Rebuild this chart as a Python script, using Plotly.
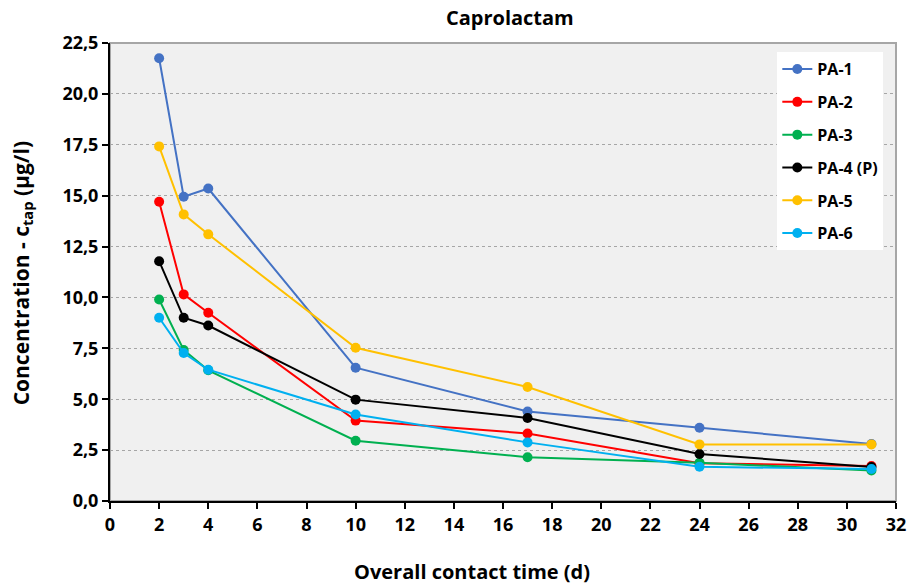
import plotly.graph_objects as go

days = [2, 3, 4, 10, 17, 24, 31]
names = ["PA-1", "PA-2", "PA-3", "PA-4 (P)", "PA-5", "PA-6"]
pa1 = [21.75, 14.95, 15.35, 6.55, 4.40, 3.60, 2.80]
pa2 = [14.70, 10.15, 9.25, 3.95, 3.32, 1.85, 1.72]
pa3 = [9.90, 7.42, 6.42, 2.96, 2.15, 1.88, 1.50]
pa4 = [11.78, 9.00, 8.62, 4.98, 4.08, 2.31, 1.67]
pa5 = [17.42, 14.08, 13.10, 7.53, 5.60, 2.78, 2.78]
pa6 = [9.00, 7.27, 6.45, 4.25, 2.88, 1.68, 1.57]
colors = ["#4472C4", "#FF0000", "#00B050", "#000000", "#FFC000", "#00B0F0"]
series = [pa1, pa2, pa3, pa4, pa5, pa6]

x_ticks = list(range(0, 33, 2))
y_ticks = [0, 2.5, 5, 7.5, 10, 12.5, 15, 17.5, 20, 22.5]

font_family = "'Open Sans', sans-serif"

fig = go.Figure()
for i, (n, s, c) in enumerate(zip(names, series, colors)):
    fig.add_trace(go.Scatter(
        x=days, y=s, name=n, mode="lines+markers",
        line=dict(color=c, width=2),
        marker=dict(color=c, size=10),
        legendgroup=f"g{i}",
    ))

bold = dict(family=font_family, color="black", weight="bold")

fig.update_layout(
    width=917, height=587,
    margin=dict(l=110, r=21, t=43, b=86),
    paper_bgcolor="white",
    plot_bgcolor="#F0F0F0",
    separators=",.",
    font=dict(family=font_family, color="black", size=16, weight="bold"),
    title=dict(text="Caprolactam", x=0.556, xanchor="center", y=0.97, yanchor="middle",
               font=dict(size=20, **bold)),
    showlegend=True,
    legend=dict(
        x=0.849, y=0.98, xanchor="left", yanchor="top",
        bgcolor="white", borderwidth=0,
        font=dict(size=16, **bold),
        tracegroupgap=9,
        itemwidth=30,
    ),
    shapes=[dict(type="rect", xref="paper", yref="paper", x0=0, x1=1, y0=0, y1=1,
                 line=dict(color="#A6A6A6", width=2), layer="below")],
    annotations=[
        dict(text="Overall contact time (d)", xref="paper", yref="paper",
             x=0.4606, y=-0.155, xanchor="center", yanchor="middle", showarrow=False,
             font=dict(size=20, **bold)),
        dict(text="Concentration - c<sub>tap</sub> (µg/l)", xref="paper", yref="paper",
             x=-0.112, y=0.497, xanchor="center", yanchor="middle", showarrow=False,
             textangle=-90, font=dict(size=21, **bold)),
    ],
)

fig.update_xaxes(
    range=[0, 32], tickvals=x_ticks,
    ticks="outside", ticklen=6, tickwidth=2, tickcolor="black",
    showline=True, linecolor="black", linewidth=2,
    showgrid=False, zeroline=False,
    tickfont=dict(size=18, **bold),
)
fig.update_yaxes(
    range=[0, 22.5], tickvals=y_ticks, tickformat=".1f",
    ticks="outside", ticklen=6, tickwidth=2, tickcolor="black",
    showline=True, linecolor="black", linewidth=2,
    showgrid=True, gridcolor="#A6A6A6", griddash="dot", gridwidth=1,
    zeroline=False,
    tickfont=dict(size=18, **bold),
)

fig.write_html("out.html")
